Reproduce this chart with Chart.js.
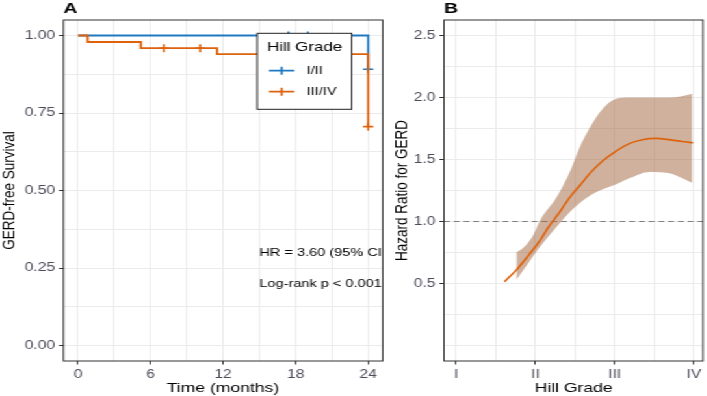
<!DOCTYPE html>
<html>
<head>
<meta charset="utf-8">
<script src="https://cdn.jsdelivr.net/npm/chart.js@4"></script>
<style>
html, body { margin: 0; padding: 0; background: #fff; overflow: hidden; }
/* the figure is drawn narrow and stretched sideways, like the source image */
#wrap { position: absolute; left: 0; top: 0; width: 544px; height: 396px; transform: scaleX(1.3); transform-origin: 0 0; }
#kmChart { position: absolute; left: 0; top: 0; }
#hrChart { position: absolute; left: 300px; top: 0; }
</style>
</head>
<body>
<div id="wrap">
<canvas id="kmChart" width="300" height="396"></canvas>
<canvas id="hrChart" width="244" height="396"></canvas>
</div>
<script>
const FONT = '"Liberation Sans", Arial, sans-serif';

// panel A - Kaplan-Meier
const groups = ['I/II', 'III/IV'];
const groupColors = ['#1F78C1', '#DE620C'];
const kmTimeLow = [0, 24];
const kmSurvLow = [1, 0.891];
const kmTimeHigh = [0, 0.8, 5.2, 11.5, 24];
const kmSurvHigh = [1, 0.979, 0.959, 0.94, 0.706];
const censorTimeLow = [17.4, 19, 24];
const censorSurvLow = [1, 1, 0.891];
const censorTimeHigh = [7.1, 10.1, 24];
const censorSurvHigh = [0.959, 0.959, 0.706];
const timeTicks = [0, 6, 12, 18, 24];
const timeMinor = [3, 9, 15, 21];
const survTicks = [0, 0.25, 0.5, 0.75, 1];
const survMinor = [0.125, 0.375, 0.625, 0.875];
const noteText = ['HR = 3.60 (95% CI', 'Log-rank p < 0.001'];
const noteX = [15, 15];
const noteY = [0.3, 0.2];

// panel B - hazard ratio by Hill grade
const gradeLabels = ['I', 'II', 'III', 'IV'];
const gradeTicks = [1, 2, 3, 4];
const gradeMinor = [1.5, 2.5, 3.5];
const hrTicks = [0.5, 1, 1.5, 2, 2.5];
const hrMinor = [0, 0.25, 0.75, 1.25, 1.75, 2.25];
const hrGrade = [1.61, 1.76, 1.94, 2.06, 2.17, 2.31, 2.44, 2.56, 2.69, 2.85, 3.0, 3.19, 3.35, 3.52, 3.69, 3.85, 3.99];
const hrValue = [0.515, 0.61, 0.75, 0.85, 0.96, 1.08, 1.2, 1.29, 1.39, 1.49, 1.56, 1.63, 1.66, 1.67, 1.66, 1.645, 1.635];
const ciGrade = [1.76, 1.85, 1.98, 2.05, 2.27, 2.44, 2.56, 2.69, 2.85, 3.02, 3.19, 3.44, 3.69, 3.85, 3.98];
const ciUpper = [0.75, 0.79, 0.9, 1.0, 1.2, 1.41, 1.6, 1.76, 1.91, 1.99, 2.0, 2.0, 2.0, 2.01, 2.03];
const ciLower = [0.53, 0.61, 0.73, 0.79, 0.96, 1.08, 1.15, 1.21, 1.26, 1.3, 1.35, 1.4, 1.39, 1.35, 1.31];
const refHR = 1;

const pts = (xs, ys) => xs.map((x, i) => ({ x: x, y: ys[i] }));

function axis(major, minor, fmt, fit, title, titlePad) {
  return {
    type: 'linear',
    afterBuildTicks: s => { s.ticks = major.concat(minor).map(v => ({ value: v })); },
    afterFit: fit,
    border: { display: false },
    grid: {
      color: '#EBEBEB',
      lineWidth: 1,
      tickLength: 3.5,
      tickColor: c => (c.tick && major.includes(c.tick.value)) ? '#333333' : 'rgba(0,0,0,0)'
    },
    ticks: {
      autoSkip: false,
      maxRotation: 0,
      padding: 3,
      color: '#4D4D5A',
      font: { family: FONT, size: 12, weight: 'normal' },
      callback: v => major.includes(v) ? fmt(v) : ''
    },
    title: {
      display: true,
      text: title,
      color: '#000',
      font: { family: FONT, size: 13.5, weight: 'normal' },
      padding: titlePad
    }
  };
}

const yFit = w => s => { s.width = w; s.paddingTop = 0; s.paddingBottom = 0; };
const xFit = s => { s.height = 35; s.paddingLeft = 0; s.paddingRight = 0; };

const frame = {
  id: 'frame',
  afterDraw(chart, args, opts) {
    const ctx = chart.ctx, a = chart.chartArea;
    ctx.save();
    ctx.strokeStyle = '#333333';
    ctx.lineWidth = 1;
    ctx.strokeRect(a.left, a.top, a.right - a.left, a.bottom - a.top);
    ctx.fillStyle = '#000';
    ctx.font = 'bold 15px ' + FONT;
    ctx.textAlign = 'left';
    ctx.textBaseline = 'alphabetic';
    ctx.fillText(opts.tag, a.left, 12.5);
    ctx.restore();
  }
};

const kmNotes = {
  id: 'kmNotes',
  afterDatasetsDraw(chart) {
    const ctx = chart.ctx, a = chart.chartArea;
    const xs = chart.scales.x, ys = chart.scales.y;
    ctx.save();
    ctx.beginPath();
    ctx.rect(a.left, a.top, a.right - a.left, a.bottom - a.top);
    ctx.clip();
    ctx.fillStyle = '#000';
    ctx.font = '11.2px ' + FONT;
    ctx.textAlign = 'left';
    ctx.textBaseline = 'middle';
    noteText.forEach((t, i) => ctx.fillText(t, xs.getPixelForValue(noteX[i]), ys.getPixelForValue(noteY[i])));
    ctx.restore();

    // legend box
    const bx = 197.9, by = 33.3, bw = 72.6, bh = 76;
    ctx.save();
    ctx.fillStyle = '#fff';
    ctx.fillRect(bx, by, bw, bh);
    ctx.strokeStyle = '#222';
    ctx.lineWidth = 1;
    ctx.strokeRect(bx, by, bw, bh);
    ctx.fillStyle = '#000';
    ctx.font = '13px ' + FONT;
    ctx.textBaseline = 'middle';
    ctx.fillText('Hill Grade', bx + 7.5, by + 14.3);
    groups.forEach((g, i) => {
      const y = by + 37.4 + i * 21;
      ctx.strokeStyle = groupColors[i];
      ctx.lineWidth = 1.8;
      ctx.beginPath();
      ctx.moveTo(bx + 9, y); ctx.lineTo(bx + 28.5, y);
      ctx.moveTo(bx + 18.7, y - 4); ctx.lineTo(bx + 18.7, y + 4);
      ctx.stroke();
      ctx.fillStyle = '#000';
      ctx.font = '11.2px ' + FONT;
      ctx.fillText(g, bx + 38, y);
    });
    ctx.restore();
  }
};

const refLine = {
  id: 'refLine',
  beforeDatasetsDraw(chart) {
    const ctx = chart.ctx, a = chart.chartArea;
    const y = chart.scales.y.getPixelForValue(refHR);
    ctx.save();
    ctx.strokeStyle = '#808080';
    ctx.lineWidth = 1;
    ctx.setLineDash([4.5, 3]);
    ctx.beginPath();
    ctx.moveTo(a.left, y);
    ctx.lineTo(a.right, y);
    ctx.stroke();
    ctx.restore();
  }
};

const censor = (xs, ys, col) => ({
  data: pts(xs, ys), showLine: false, pointStyle: 'cross', pointRadius: 4,
  pointBorderColor: col, pointBorderWidth: 1.6, borderColor: col
});

new Chart(document.getElementById('kmChart'), {
  type: 'line',
  data: {
    datasets: [
      { data: pts(kmTimeHigh, kmSurvHigh), borderColor: groupColors[1], borderWidth: 1.8, stepped: true, pointRadius: 0, fill: false },
      { data: pts(kmTimeLow, kmSurvLow), borderColor: groupColors[0], borderWidth: 1.8, stepped: true, pointRadius: 0, fill: false },
      censor(censorTimeHigh, censorSurvHigh, groupColors[1]),
      censor(censorTimeLow, censorSurvLow, groupColors[0])
    ]
  },
  options: {
    responsive: false,
    animation: false,
    events: [],
    layout: { padding: { top: 20, right: 4.2, left: 0, bottom: 0 } },
    plugins: { legend: { display: false }, tooltip: { enabled: false }, frame: { tag: 'A' } },
    scales: {
      x: Object.assign(axis(timeTicks, timeMinor, v => String(v), xFit, 'Time (months)', { top: 0, bottom: 0 }), { min: -1.2, max: 25.2 }),
      y: Object.assign(axis(survTicks, survMinor, v => v.toFixed(2), yFit(48.8), 'GERD-free Survival', { top: -1, bottom: 0 }), { min: -0.05, max: 1.05 })
    }
  },
  plugins: [frame, kmNotes]
});

new Chart(document.getElementById('hrChart'), {
  type: 'line',
  data: {
    datasets: [
      { data: pts(hrGrade, hrValue), borderColor: groupColors[1], borderWidth: 1.6, pointRadius: 0, fill: false, cubicInterpolationMode: 'monotone' },
      { data: pts(ciGrade, ciUpper), borderColor: 'rgba(0,0,0,0)', backgroundColor: 'rgba(160,100,60,0.5)', pointRadius: 0, fill: '+1', cubicInterpolationMode: 'monotone' },
      { data: pts(ciGrade, ciLower), borderColor: 'rgba(0,0,0,0)', pointRadius: 0, fill: false, cubicInterpolationMode: 'monotone' }
    ]
  },
  options: {
    responsive: false,
    animation: false,
    events: [],
    layout: { padding: { top: 20, right: 3.2, left: 0, bottom: 0 } },
    plugins: { legend: { display: false }, tooltip: { enabled: false }, frame: { tag: 'B' } },
    scales: {
      x: Object.assign(axis(gradeTicks, gradeMinor, v => gradeLabels[gradeTicks.indexOf(v)], xFit, 'Hill Grade', { top: 0, bottom: 0 }), { min: 0.845, max: 4.115 }),
      y: Object.assign(axis(hrTicks, hrMinor, v => v.toFixed(1), yFit(41.5), 'Hazard Ratio for GERD', { top: 1, bottom: 0 }), { min: -0.125, max: 2.625 })
    }
  },
  plugins: [frame, refLine]
});
</script>
</body>
</html>
